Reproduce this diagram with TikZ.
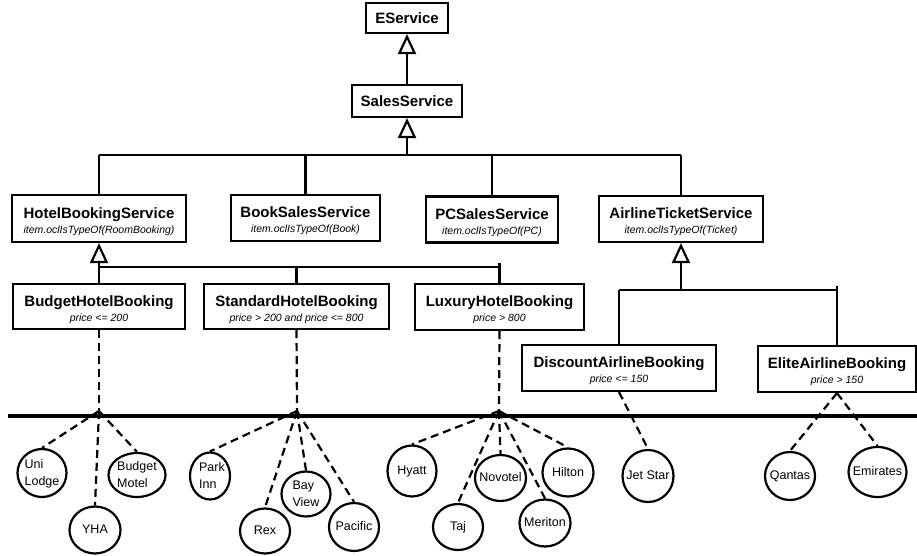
\documentclass[tikz,border=0pt]{standalone}
\usepackage{fontspec}
\setmainfont{Liberation Sans}
\usetikzlibrary{arrows.meta,shapes.geometric}
\newcommand\ttlf{\fontsize{15}{17}\selectfont\bfseries}
\newcommand\subf{\fontsize{10.5}{12}\selectfont\itshape}
\newcommand\cbox[2]{{\ttlf\rule{0pt}{17pt}#1}\\{\subf #2}}
\newcommand\tlbl[1]{\makebox[0pt]{\raisebox{-7pt}{\smash{\begin{tabular}[c]{@{}l@{}}#1\end{tabular}}}}}
\begin{document}
\begin{tikzpicture}[x=1pt,y=-1pt,
  cls/.style={draw,line width=2.2pt,inner sep=0pt,align=center,font=\fontsize{10.5}{15}\selectfont},
  inst/.style={ellipse,draw,line width=2.2pt,inner sep=0pt,font=\fontsize{12.5}{16.5}\selectfont},
  conn/.style={line width=2.2pt},
  gen/.style={line width=2.2pt,-{Triangle[open,width=18pt,length=20pt,line width=2.2pt]}},
  dep/.style={line width=2.2pt,dash pattern=on 8pt off 5pt},
  thick line/.style={line width=4.5pt}
]
\useasboundingbox (0,0) rectangle (917,556);

% classes
\node[cls,minimum width=82pt,minimum height=30pt] (es) at (407,18) {\ttlf EService};
\node[cls,minimum width=110pt,minimum height=32pt] (ss) at (407,101) {\ttlf SalesService};
\node[cls,minimum width=174pt,minimum height=47pt] (hbs) at (99,218.5) {\cbox{HotelBookingService}{item.oclIsTypeOf(RoomBooking)}};
\node[cls,minimum width=149pt,minimum height=46pt] (bss) at (305.5,218) {\cbox{BookSalesService}{item.oclIsTypeOf(Book)}};
\node[cls,minimum width=132pt,minimum height=46pt] (pcs) at (492,219.5) {\cbox{PCSalesService}{item.oclIsTypeOf(PC)}};
\node[cls,minimum width=164pt,minimum height=46pt] (ats) at (681,219) {\cbox{AirlineTicketService}{item.oclIsTypeOf(Ticket)}};
\node[cls,minimum width=172pt,minimum height=45pt] (bhb) at (99,306.5) {\cbox{BudgetHotelBooking}{price <= 200}};
\node[cls,minimum width=185pt,minimum height=45pt] (shb) at (296.5,306.5) {\cbox{StandardHotelBooking}{price > 200 and price <= 800}};
\node[cls,minimum width=169pt,minimum height=46pt] (lhb) at (499.5,307) {\cbox{LuxuryHotelBooking}{price > 800}};
\node[cls,minimum width=194pt,minimum height=46pt] (dab) at (619,368) {\cbox{DiscountAirlineBooking}{price <= 150}};
\node[cls,minimum width=158pt,minimum height=46pt] (eab) at (837,369) {\cbox{EliteAirlineBooking}{price > 150}};

% generalisation
\draw[gen] (ss.north) -- (es.south);
\coordinate (b1) at (407,155);
\draw[gen] (b1) -- (ss.south);
\draw[conn] (hbs.north |- b1) -- (ats.north |- b1);
\foreach \n in {hbs,bss,pcs,ats} \draw[conn] (\n.north) -- (\n.north |- b1);

\coordinate (b2) at (99,267);
\draw[gen] (b2) -- (hbs.south);
\draw[conn] (bhb.north |- b2) -- (lhb.north |- b2);
\draw[conn] (bhb.north) -- (bhb.north |- b2);
\draw[conn] (shb.north) -- (shb.north |- b2);
\draw[conn] (lhb.north) -- ([yshift=4pt]lhb.north |- b2);

\coordinate (b3) at (681,290);
\draw[gen] (b3) -- (ats.south);
\draw[conn] (dab.north |- b3) -- (eab.north |- b3);
\draw[conn] (dab.north) -- (dab.north |- b3);
\draw[conn] (eab.north) -- ([yshift=4pt]eab.north |- b3);

% separator
\coordinate (sepL) at (8,416);
\coordinate (sepR) at (917,416);
\draw[thick line] (sepL) -- (sepR);

% instances
\node[inst,minimum width=49pt,minimum height=48pt] (uni) at (42,473) {\tlbl{Uni\\Lodge}};
\node[inst,minimum width=51pt,minimum height=47pt] (yha) at (95,530) {\tlbl{YHA}};
\node[inst,minimum width=57pt,minimum height=44pt] (bm) at (137,475) {\tlbl{Budget\\Motel}};
\node[inst,minimum width=40pt,minimum height=47pt] (park) at (210,476) {\hspace{4pt}\tlbl{Park\\Inn}};
\node[inst,minimum width=50pt,minimum height=45pt] (rex) at (265,531) {\tlbl{Rex}};
\node[inst,minimum width=49pt,minimum height=45pt] (bay) at (306,494) {\tlbl{Bay\\View}};
\node[inst,minimum width=50pt,minimum height=48pt] (pac) at (354,527) {\tlbl{Pacific}};
\node[inst,minimum width=49pt,minimum height=51pt] (hya) at (412,471) {\tlbl{Hyatt}};
\node[inst,minimum width=50pt,minimum height=46pt] (taj) at (458,527) {\tlbl{Taj}};
\node[inst,minimum width=51pt,minimum height=46pt] (nov) at (500.5,478) {\tlbl{Novotel}};
\node[inst,minimum width=51pt,minimum height=47pt] (mer) at (545,523) {\tlbl{Meriton}};
\node[inst,minimum width=51pt,minimum height=48pt] (hil) at (568,472.5) {\tlbl{Hilton}};
\node[inst,minimum width=51pt,minimum height=52pt] (jet) at (648,476) {\tlbl{Jet Star}};
\node[inst,minimum width=50pt,minimum height=48pt] (qan) at (790,476) {\tlbl{Qantas}};
\node[inst,minimum width=58pt,minimum height=50pt] (emi) at (877.5,472) {\tlbl{Emirates}};

% instance-of links
\coordinate (jb) at (99,411);
\coordinate (js) at (297,411);
\coordinate (jl) at (499,411);
\draw[dep] (bhb.south) -- (jb);
\draw[dep] (shb.south) -- (js);
\draw[dep] (lhb.south) -- (jl);
\foreach \n in {uni,yha,bm} \draw[dep] (jb) -- (\n.north);
\foreach \n in {park,rex,bay,pac} \draw[dep] (js) -- (\n.north);
\foreach \n in {hya,taj,nov,mer,hil} \draw[dep] (jl) -- (\n.north);
\draw[dep] (dab.south) -- (jet.north);
\foreach \n in {qan,emi} \draw[dep] (eab.south) -- (\n.north);
\end{tikzpicture}
\end{document}
